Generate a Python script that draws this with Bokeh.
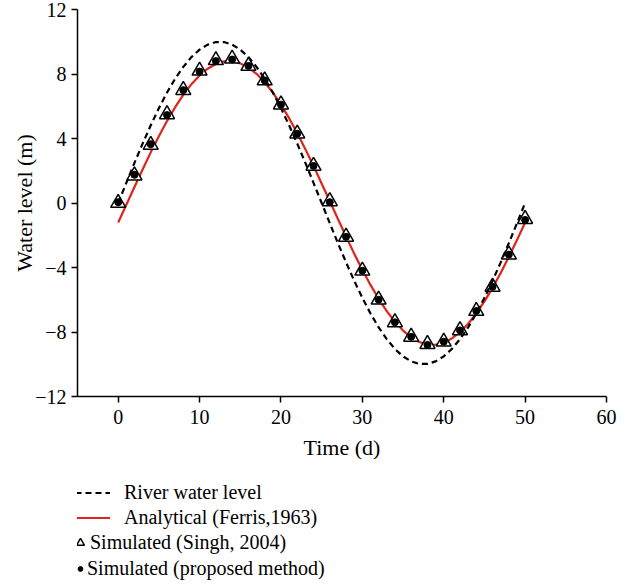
from bokeh.plotting import figure
from bokeh.layouts import column
from bokeh.models import FixedTicker, Legend, LegendItem
from bokeh.embed import file_html
from bokeh.resources import INLINE

# ---- data ----
time_line = list(range(0, 51))
river_level = [0.0, 1.25, 2.49, 3.68, 4.82, 5.88, 6.85, 7.71, 8.44, 9.05, 9.51,
               9.82, 9.98, 9.98, 9.82, 9.51, 9.05, 8.44, 7.71, 6.85, 5.88,
               4.82, 3.68, 2.49, 1.25, 0.0, -1.25, -2.49, -3.68, -4.82, -5.88,
               -6.85, -7.71, -8.44, -9.05, -9.51, -9.82, -9.98, -9.98, -9.82, -9.51,
               -9.05, -8.44, -7.71, -6.85, -5.88, -4.82, -3.68, -2.49, -1.25, 0.0]
analytical = [-1.21, -0.11, 0.99, 2.08, 3.14, 4.14, 5.08, 5.94, 6.71, 7.37, 7.91,
              8.33, 8.62, 8.78, 8.79, 8.66, 8.40, 8.01, 7.49, 6.85, 6.10,
              5.26, 4.34, 3.34, 2.30, 1.21, 0.11, -0.99, -2.08, -3.14, -4.14,
              -5.08, -5.94, -6.71, -7.37, -7.91, -8.33, -8.62, -8.78, -8.79, -8.66,
              -8.40, -8.01, -7.49, -6.85, -6.10, -5.26, -4.34, -3.34, -2.30, -1.21]
time_sim = list(range(0, 51, 2))
singh = [0.0, 1.7, 3.6, 5.5, 7.0, 8.2, 8.85, 8.95, 8.5, 7.6, 6.1, 4.3, 2.3,
         0.1, -2.1, -4.2, -6.0, -7.4, -8.3, -8.75, -8.6, -7.9, -6.7, -5.2, -3.2, -1.0]
proposed = [0.05, 1.75, 3.65, 5.45, 7.0, 8.15, 8.8, 8.9, 8.5, 7.6, 6.1, 4.3, 2.3,
            0.05, -2.1, -4.2, -6.0, -7.4, -8.3, -8.8, -8.6, -7.9, -6.7, -5.2, -3.2, -1.05]
x_ticks = [0, 10, 20, 30, 40, 50, 60]
y_ticks = [-12, -8, -4, 0, 4, 8, 12]
y_tick_labels = ["\u221212", "\u22128", "\u22124", "0", "4", "8", "12"]
legend_labels = ["River water level", "Analytical (Ferris,1963)",
                 "Simulated (Singh, 2004)", "Simulated (proposed method)"]

FONT = "Liberation Serif"
RED = "#e2231a"

p = figure(frame_width=529, frame_height=387, x_range=(-5, 60), y_range=(-12, 12),
           output_backend="svg", toolbar_location=None,
           min_border_left=77, min_border_top=9, min_border_right=16, min_border_bottom=74)

p.xgrid.visible = False
p.ygrid.visible = False
p.outline_line_color = None
p.background_fill_color = "white"

p.xaxis.ticker = FixedTicker(ticks=x_ticks)
p.yaxis.ticker = FixedTicker(ticks=y_ticks)
p.yaxis.major_label_overrides = {t: l for t, l in zip(y_ticks, y_tick_labels)}
p.xaxis.axis_label = "Time (d)"
p.yaxis.axis_label = "Water level (m)"
for ax in (p.xaxis[0], p.yaxis[0]):
    ax.axis_line_color = "black"
    ax.axis_line_width = 1.5
    ax.major_tick_line_color = "black"
    ax.major_tick_line_width = 1.5
    ax.major_tick_out = 6
    ax.major_tick_in = 0
    ax.minor_tick_line_color = None
    ax.major_label_text_font = FONT
    ax.major_label_text_font_size = "20px"
    ax.major_label_text_color = "black"
    ax.axis_label_text_font = FONT
    ax.axis_label_text_font_size = "22px"
    ax.axis_label_text_font_style = "normal"
    ax.axis_label_text_color = "black"
p.xaxis.major_label_standoff = 7
p.xaxis.axis_label_standoff = 8
p.yaxis.major_label_standoff = 5
p.yaxis.axis_label_standoff = -5

line_river = dict(line_color="black", line_width=2.2, line_dash="6 4")
line_ana = dict(line_color=RED, line_width=2.2)
mk_singh = dict(marker="triangle", size=15, fill_color="white", line_color="black", line_width=1.5)
mk_prop = dict(marker="circle", size=7, fill_color="black", line_color="black")

p.line(time_line, analytical, **line_ana)
p.scatter(time_sim, singh, **mk_singh)
p.scatter(time_sim, proposed, **mk_prop)
p.line(time_line, river_level, **line_river)

# ---- legend strip below the chart (its own figure; the data sit outside its view) ----
pl = figure(width=622, height=114, x_range=(1000, 1001), y_range=(1000, 1001),
            output_backend="svg", toolbar_location=None,
            x_axis_type=None, y_axis_type=None, min_border=0)
pl.outline_line_color = None
pl.grid.visible = False
lr_river = pl.line(time_line, river_level, **line_river)
lr_ana = pl.line(time_line, analytical, **line_ana)
lr_singh = pl.scatter(time_sim, singh, **mk_singh)
lr_prop = pl.scatter(time_sim, proposed, **mk_prop)

common = dict(padding=0, margin=0, label_text_font=FONT, label_text_font_size="20px",
              label_text_color="black", background_fill_alpha=0, border_line_alpha=0,
              label_height=25, spacing=0)

leg1 = Legend(items=[LegendItem(label=legend_labels[0], renderers=[lr_river]),
                     LegendItem(label=legend_labels[1], renderers=[lr_ana])],
              location=(-2, 54), glyph_width=35, glyph_height=25,
              label_standoff=14, **common)
leg2 = Legend(items=[LegendItem(label=legend_labels[2], renderers=[lr_singh])],
              location=(-7, 29), glyph_width=20, glyph_height=25,
              label_standoff=0, **common)
leg3 = Legend(items=[LegendItem(label=legend_labels[3], renderers=[lr_prop])],
              location=(-3, 3), glyph_width=12, glyph_height=25,
              label_standoff=1, **common)
pl.add_layout(leg1)
pl.add_layout(leg2)
pl.add_layout(leg3)

layout = column(p, pl, spacing=0)
open("out.html", "w").write(file_html(layout, INLINE))
